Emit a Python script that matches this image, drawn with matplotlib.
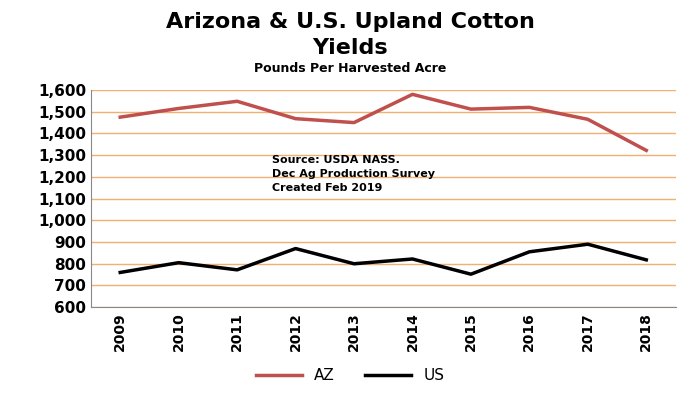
import matplotlib
matplotlib.use("Agg")
import matplotlib.pyplot as plt

years = ["2009","2010","2011","2012","2013","2014","2015","2016","2017","2018"]
az = [1475, 1515, 1548, 1468, 1450, 1580, 1512, 1520, 1465, 1322]
us = [760, 805, 772, 870, 800, 822, 752, 855, 890, 818]
yticks = list(range(600, 1601, 100))

fig = plt.figure(figsize=(7, 4), dpi=100)
ax = fig.add_axes([0.13, 0.232, 0.835, 0.543])
x = range(len(years))
ax.plot(x, az, color="#c0504d", lw=2.5, label="AZ")
ax.plot(x, us, color="black", lw=2.5, label="US")
ax.set_ylim(600, 1600)
ax.set_xlim(-0.5, len(years) - 0.5)
ax.set_yticks(yticks)
ax.set_yticklabels([f"{v:,}" for v in yticks], fontsize=11, fontweight="bold")
ax.set_xticks(list(x))
ax.set_xticklabels(years, rotation=90, fontsize=10, fontweight="bold")
ax.grid(axis="y", color="#f0b070", lw=1)
ax.set_axisbelow(True)
for s in ["top", "right"]:
    ax.spines[s].set_visible(False)
ax.spines["left"].set_color("#888888")
ax.spines["bottom"].set_color("#888888")
ax.tick_params(length=0)
fig.text(0.5, 0.97, "Arizona & U.S. Upland Cotton", ha="center", va="top", fontsize=16, fontweight="bold")
fig.text(0.5, 0.905, "Yields", ha="center", va="top", fontsize=16, fontweight="bold")
fig.text(0.5, 0.845, "Pounds Per Harvested Acre", ha="center", va="top", fontsize=9, fontweight="bold")
ax.text(0.31, 0.70, "Source: USDA NASS.\nDec Ag Production Survey\nCreated Feb 2019", transform=ax.transAxes,
        fontsize=8, fontweight="bold", va="top", linespacing=1.5)
fig.legend(loc="center", bbox_to_anchor=(0.5, 0.06), ncol=2, frameon=False, fontsize=11, handlelength=3)
fig.savefig("out.png")
